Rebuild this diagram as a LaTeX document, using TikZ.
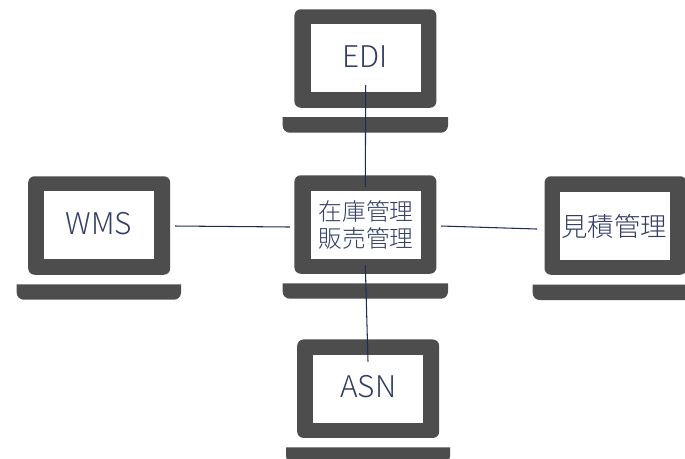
\documentclass[tikz,border=0pt]{standalone}
\usepackage{fontspec}
\setmainfont{Noto Sans CJK JP Light}
\definecolor{lapgray}{HTML}{4D4D4D}
\definecolor{linknavy}{HTML}{1F2A5A}
\definecolor{labelnavy}{HTML}{333D66}
\tikzset{
  lapbody/.style={fill=lapgray,rounded corners=3.6pt,minimum width=2.84cm,minimum height=1.97cm,inner sep=0pt},
  lapscreen/.style={fill=white,minimum width=2.2cm,minimum height=1.36cm,inner sep=0pt},
  lapbase/.style={fill=lapgray},
  lapword/.style={text=labelnavy,font=\fontsize{17}{17}\selectfont,inner sep=0pt},
  lapkanji/.style={text=labelnavy,align=center,inner sep=0pt},
  link/.style={draw=linknavy,line width=0.6pt}
}
\begin{document}
\begin{tikzpicture}[x=0.02cm,y=-0.02cm]
\useasboundingbox (0,0) rectangle (685,458);
\clip (0,0) rectangle (685,458);
% top
\node[lapbody] (edibody) at (365.4,58.5) {};
\node[lapscreen] (ediscreen) at (365.9,58.3) {};
\fill[lapbase] (282.7,117) -- (448,117) [rounded corners=4pt] -- (448,132.7) -- (282.7,132.7) [sharp corners] -- cycle;
\node[lapword] (edi) at (365.3,56.7) {EDI};
% left
\node[lapbody] (wmsbody) at (99.2,225.5) {};
\node[lapscreen] (wmsscreen) at (99.2,225.3) {};
\fill[lapbase] (16.7,284.3) -- (181,284.3) [rounded corners=4pt] -- (181,299.7) -- (16.7,299.7) [sharp corners] -- cycle;
\node[lapword] (wms) at (99,224) {WMS};
% middle
\node[lapbody] (hubbody) at (365.4,224.5) {};
\node[lapscreen] (hubscreen) at (365.9,224.8) {};
\fill[lapbase] (282.7,283.3) -- (448,283.3) [rounded corners=4pt] -- (448,298.7) -- (282.7,298.7) [sharp corners] -- cycle;
\node[lapkanji,font=\fontsize{13.5}{15.5}\selectfont] (hub) at (366,225.3) {在庫管理\\販売管理};
% right
\node[lapbody] (quotebody) at (615.5,225.5) {};
\node[lapscreen] (quotescreen) at (615.3,225.5) {};
\fill[lapbase] (532.7,284.7) -- (697,284.7) [rounded corners=4pt] -- (697,300) -- (532.7,300) [sharp corners] -- cycle;
\node[lapkanji,font=\fontsize{15}{15}\selectfont] (quote) at (614,226.7) {見積管理};
% bottom
\node[lapbody] (asnbody) at (368.2,388.7) {};
\node[lapscreen] (asnscreen) at (368.2,388.5) {};
\fill[lapbase] (286,447.3) -- (450,447.3) [rounded corners=4pt] -- (450,463) -- (286,463) [sharp corners] -- cycle;
\node[lapword] (asn) at (368.2,387) {ASN};
% free ends of the links
\coordinate (edifoot) at (365.7,85);
\coordinate (hubtop) at (365.3,187);
\coordinate (hubfoot) at (365.3,265);
\coordinate (asntop) at (368,361.7);
\coordinate (wmsend) at (175,226);
\coordinate (hubleft) at (290,227);
\coordinate (hubright) at (441,226);
\coordinate (quoteend) at (537,229);
\draw[link] (edifoot) -- (hubtop);
\draw[link] (hubfoot) -- (asntop);
\draw[link] (wmsend) -- (hubleft);
\draw[link] (hubright) -- (quoteend);
\end{tikzpicture}
\end{document}
